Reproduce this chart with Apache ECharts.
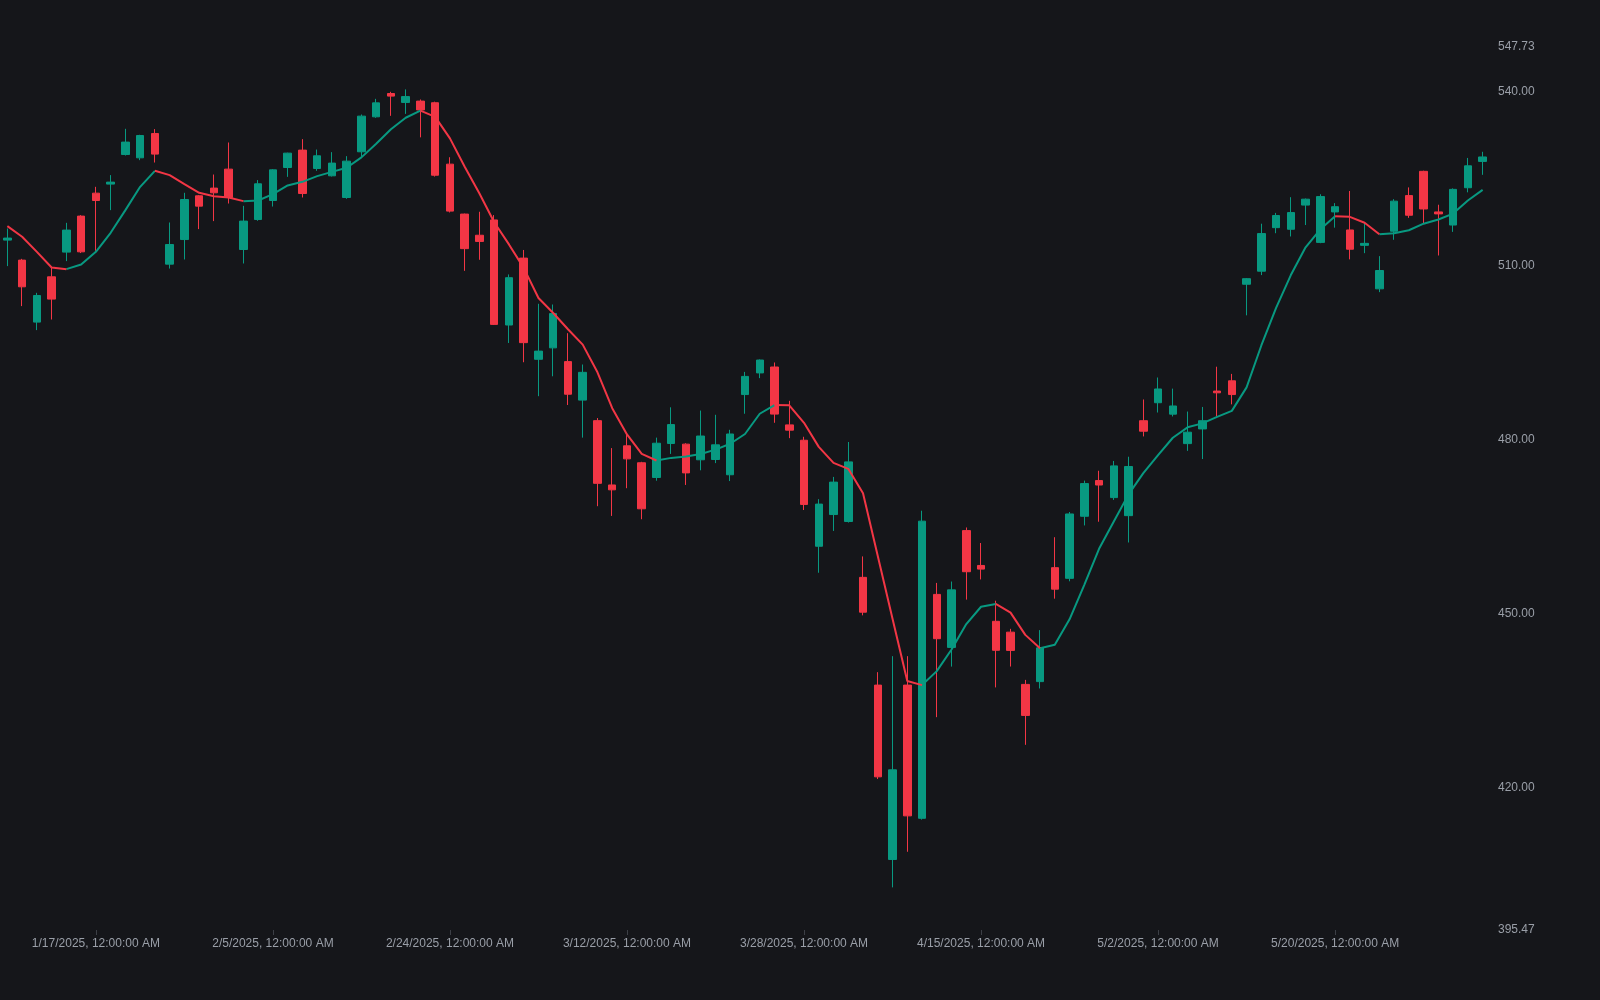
<!DOCTYPE html>
<html>
<head>
<meta charset="utf-8">
<script src="https://cdn.jsdelivr.net/npm/echarts@6/dist/echarts.min.js"></script>
<style>
  html, body { margin: 0; padding: 0; background: #15161a; }
  #chart { width: 1600px; height: 1000px; }
</style>
</head>
<body>
<div id="chart"></div>
<script>
const dates = ['1/8/2025','1/10/2025','1/13/2025','1/14/2025','1/15/2025','1/16/2025','1/17/2025','1/21/2025','1/22/2025','1/23/2025',
  '1/24/2025','1/27/2025','1/28/2025','1/29/2025','1/30/2025','1/31/2025','2/3/2025','2/4/2025','2/5/2025','2/6/2025',
  '2/7/2025','2/10/2025','2/11/2025','2/12/2025','2/13/2025','2/14/2025','2/18/2025','2/19/2025','2/20/2025','2/21/2025',
  '2/24/2025','2/25/2025','2/26/2025','2/27/2025','2/28/2025','3/3/2025','3/4/2025','3/5/2025','3/6/2025','3/7/2025',
  '3/10/2025','3/11/2025','3/12/2025','3/13/2025','3/14/2025','3/17/2025','3/18/2025','3/19/2025','3/20/2025','3/21/2025',
  '3/24/2025','3/25/2025','3/26/2025','3/27/2025','3/28/2025','3/31/2025','4/1/2025','4/2/2025','4/3/2025','4/4/2025',
  '4/7/2025','4/8/2025','4/9/2025','4/10/2025','4/11/2025','4/14/2025','4/15/2025','4/16/2025','4/17/2025','4/21/2025',
  '4/22/2025','4/23/2025','4/24/2025','4/25/2025','4/28/2025','4/29/2025','4/30/2025','5/1/2025','5/2/2025','5/5/2025',
  '5/6/2025','5/7/2025','5/8/2025','5/9/2025','5/12/2025','5/13/2025','5/14/2025','5/15/2025','5/16/2025','5/19/2025',
  '5/20/2025','5/21/2025','5/22/2025','5/23/2025','5/27/2025','5/28/2025','5/29/2025','5/30/2025','6/2/2025','6/3/2025',
  '6/4/2025'];

const opens = [514.43,510.98,500.29,508.1,512.36,518.57,522.53,524.09,529.19,528.62,
  532.81,510.29,514.53,522.07,523.4,526.67,512.81,517.98,521.26,526.95,
  529.95,526.78,525.52,521.78,529.66,535.69,539.71,538.17,538.4,538.12,
  527.53,518.92,515.27,517.91,499.79,511.33,493.88,495.85,493.48,486.84,
  483.3,472.21,478.96,476.04,473.5,479.36,479.25,476.55,476.6,473.97,
  487.8,491.53,492.55,482.57,479.92,461.64,467.11,465.91,456.28,437.7,
  407.63,437.7,414.73,453.34,444.2,464.34,458.33,448.7,446.83,437.82,
  438.3,457.95,456.11,466.81,472.97,470.03,466.92,483.29,486.39,484.42,
  479.34,481.87,488.4,490.17,506.82,509.07,516.58,516.3,520.47,514.04,
  519.29,516.18,513.53,506.03,515.96,522.11,526.29,519.29,517.03,523.46,
  528.0];

const closes = [514.78,506.38,504.88,504.26,516.16,512.41,521.26,524.43,531.33,532.47,
  529.26,513.67,521.43,520.29,522.59,521.78,517.71,524.14,526.55,529.43,
  522.47,528.97,527.71,528.05,535.81,538.1,539.26,539.18,536.88,525.62,
  519.43,512.96,514.2,499.9,507.95,496.75,495.29,501.76,487.86,491.63,
  472.49,471.37,476.71,468.1,479.41,482.62,474.29,480.65,479.13,481.0,
  490.93,493.75,484.43,481.66,468.85,468.91,472.7,476.19,450.27,421.88,
  423.09,415.15,465.97,445.7,454.12,457.25,457.7,443.7,443.68,432.47,
  444.12,454.24,467.21,472.45,472.2,475.5,475.39,481.48,488.76,485.83,
  481.31,483.29,488.1,487.8,507.78,515.56,518.67,519.18,521.49,521.94,
  520.19,512.86,513.87,509.19,521.15,518.72,519.8,518.95,523.18,527.24,
  528.77];

const lows = [509.95,503.05,498.91,500.74,510.81,512.2,512.59,519.6,529.02,528.22,
  527.81,509.53,511.09,516.33,517.71,520.74,510.4,517.76,520.22,525.34,
  521.78,526.38,525.4,521.55,528.79,535.52,535.86,536.2,532.15,525.39,
  519.2,509.13,511.04,499.79,496.69,493.37,487.52,490.95,486.0,480.37,
  468.55,466.87,471.65,466.3,472.94,477.56,472.21,474.74,475.98,472.88,
  484.49,490.63,482.93,480.28,467.89,457.07,464.28,465.73,449.73,421.5,
  402.82,408.96,414.5,432.17,440.89,452.44,455.92,437.3,440.9,427.4,
  437.12,452.6,455.6,465.23,465.87,469.63,462.29,480.58,484.7,484.02,
  478.09,476.68,483.96,486.11,501.46,508.4,515.62,515.06,517.03,513.9,
  516.58,511.11,512.18,505.46,514.49,518.27,517.26,511.78,515.85,522.67,
  525.69];

const highs = [516.43,511.2,505.34,509.71,517.41,518.74,523.62,525.64,533.62,532.59,
  533.57,517.47,522.59,522.2,525.74,531.26,520.34,524.78,526.67,529.5,
  531.84,530.05,529.6,528.91,536.09,538.79,540.0,540.42,538.68,538.3,
  528.72,519.0,519.32,518.75,508.51,512.73,503.45,503.33,498.38,492.98,
  483.75,478.57,480.82,476.2,480.37,485.6,479.4,485.04,484.31,481.72,
  491.71,493.85,493.33,486.72,480.52,469.76,473.6,479.62,459.89,439.93,
  442.69,442.69,467.77,455.32,455.56,464.88,462.2,452.25,447.4,438.6,
  447.18,463.2,467.55,472.96,474.66,476.35,477.08,486.95,490.74,488.82,
  484.87,485.66,492.6,491.36,507.9,517.26,519.12,521.83,521.6,522.34,
  520.81,522.9,517.43,511.67,521.49,523.52,526.4,520.53,523.35,528.6,
  529.66];

const ma = [516.84,515.0,512.41,509.71,509.42,510.23,512.41,515.69,519.6,523.62,
  526.38,525.63,524.08,522.59,522.01,521.78,521.15,521.26,522.36,523.85,
  524.48,525.46,526.2,526.9,528.7,531.05,533.55,535.53,536.76,535.69,
  531.98,527.08,522.47,517.52,513.69,509.64,504.46,501.87,499.06,496.41,
  491.63,485.44,480.93,477.56,476.43,476.88,477.11,477.56,478.3,479.32,
  481.0,484.49,485.99,485.95,482.93,478.78,476.01,474.99,470.78,459.95,
  449.13,438.42,437.7,440.11,443.84,448.23,451.21,451.7,450.2,446.36,
  444.05,444.65,449.05,455.0,461.2,465.9,470.59,474.26,477.36,480.35,
  482.15,482.83,483.96,484.98,489.04,496.26,502.75,508.4,513.19,516.3,
  518.55,518.44,517.43,515.45,515.6,516.13,517.26,517.99,519.0,521.26,
  523.1];

const yMin = 395.47, yMax = 547.73;
const UP = '#089981', DOWN = '#F23645';
const TEXT = '#9a9fa8';

const candleData = dates.map((d, i) => [opens[i], closes[i], lows[i], highs[i]]);
const maUp = ma.map(() => null), maDown = ma.map(() => null);
for (let i = 0; i < ma.length - 1; i++) {
  const tgt = ma[i + 1] >= ma[i] ? maUp : maDown;
  tgt[i] = ma[i]; tgt[i + 1] = ma[i + 1];
}
const lastClose = closes[closes.length - 1];

const chart = echarts.init(document.getElementById('chart'));
chart.setOption({
  animation: false,
  backgroundColor: '#15161a',
  textStyle: { fontFamily: 'Liberation Sans, Arial, sans-serif' },
  grid: { left: 0, right: 110, top: 47, bottom: 70 },
  xAxis: {
    type: 'category',
    data: dates,
    boundaryGap: true,
    axisLine: { show: false },
    axisTick: {
      show: true, alignWithLabel: true, length: 5,
      interval: (idx) => (idx - 6) % 12 === 0,
      lineStyle: { color: '#3c3f46', width: 1 }
    },
    axisLabel: {
      color: TEXT, fontSize: 12, margin: 8,
      interval: (idx) => (idx - 6) % 12 === 0,
      formatter: (v) => v + ', 12:00:00 AM'
    },
    splitLine: { show: false }
  },
  yAxis: {
    type: 'value',
    position: 'right',
    min: yMin, max: yMax,
    scale: true,
    axisLine: { show: false },
    axisTick: { show: false },
    splitLine: { show: false },
    axisLabel: {
      color: TEXT, fontSize: 12, margin: 8,
      showMinLabel: true, showMaxLabel: true,
      formatter: (v) => v.toFixed(2)
    }
  },
  series: [
    {
      type: 'candlestick',
      data: candleData,
      barWidth: 8,
      itemStyle: { color: UP, color0: DOWN, borderColor: UP, borderColor0: DOWN, borderWidth: 1 },
      markLine: {
        silent: true,
        symbol: ['none', 'none'],
        lineStyle: { opacity: 0 },
        label: {
          show: true, position: 'end', distance: 8,
          color: '#e6e8ec', fontWeight: 'bold', fontSize: 11,
          formatter: () => lastClose.toFixed(2)
        },
        data: [{ yAxis: lastClose }]
      },
      z: 2
    },
    {
      type: 'line', data: maUp, showSymbol: false, connectNulls: false, smooth: false,
      lineStyle: { color: UP, width: 2 }, itemStyle: { color: UP }, z: 3
    },
    {
      type: 'line', data: maDown, showSymbol: false, connectNulls: false, smooth: false,
      lineStyle: { color: DOWN, width: 2 }, itemStyle: { color: DOWN }, z: 3
    }
  ]
});
</script>
</body>
</html>
